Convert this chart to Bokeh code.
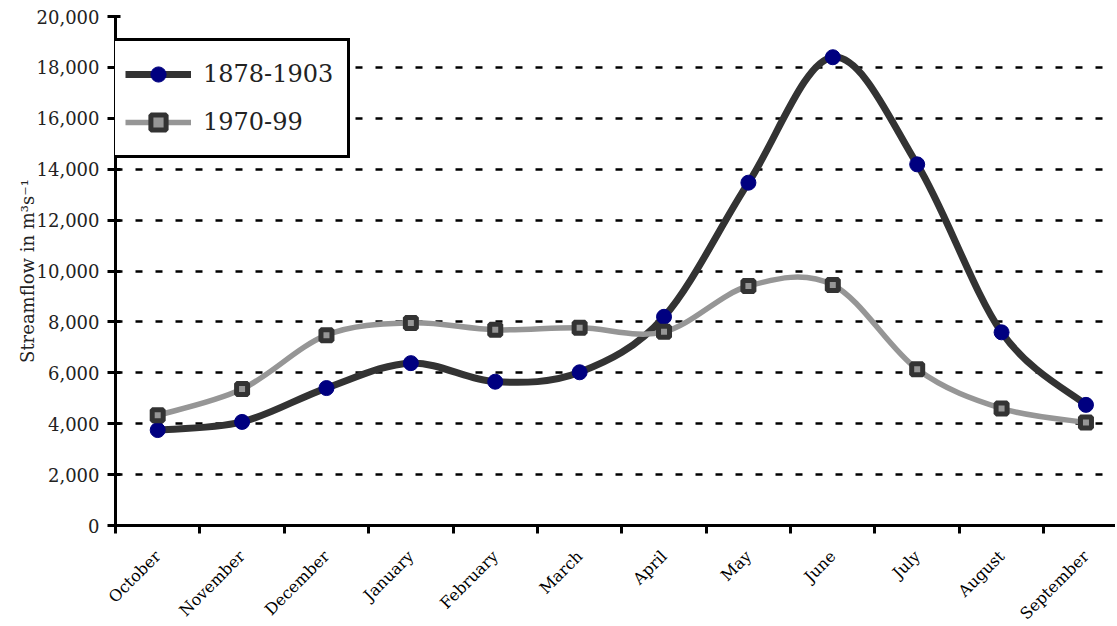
import math
from bokeh.plotting import figure
from bokeh.models import (Range1d, FixedTicker, Legend, LegendItem, ColumnDataSource,
                          NumeralTickFormatter)
from bokeh.embed import file_html
from bokeh.resources import INLINE

# ---- data ----
months = ["October", "November", "December", "January", "February", "March",
          "April", "May", "June", "July", "August", "September"]
flow_1878_1903 = [3750, 4070, 5400, 6380, 5650, 6020, 8200, 13470, 18400, 14190, 7590, 4740]
flow_1970_99 = [4330, 5360, 7480, 7960, 7690, 7770, 7610, 9410, 9450, 6140, 4600, 4050]
y_ticks = list(range(0, 20001, 2000))
grid_ticks = list(range(2000, 18001, 2000))

xs = [i + 0.5 for i in range(len(months))]


def smooth_segments(x, y, t=6.0):
    """Bezier segments through the data points (Excel-like smoothing)."""
    n = len(x)
    d = dict(x0=[], y0=[], x1=[], y1=[], cx0=[], cy0=[], cx1=[], cy1=[])
    for i in range(n - 1):
        ip = max(i - 1, 0)
        inn = min(i + 2, n - 1)
        d["x0"].append(x[i]); d["y0"].append(y[i])
        d["x1"].append(x[i + 1]); d["y1"].append(y[i + 1])
        d["cx0"].append(x[i] + (x[i + 1] - x[ip]) / t)
        d["cy0"].append(y[i] + (y[i + 1] - y[ip]) / t)
        d["cx1"].append(x[i + 1] - (x[inn] - x[i]) / t)
        d["cy1"].append(y[i + 1] - (y[inn] - y[i]) / t)
    return ColumnDataSource(d)


p = figure(frame_width=1000, frame_height=509,
           x_range=Range1d(0, 11.85), y_range=Range1d(0, 20000),
           output_backend="svg", toolbar_location=None,
           min_border_left=115, min_border_top=16, min_border_right=0,
           min_border_bottom=60)
p.outline_line_color = None
p.background_fill_color = "white"
p.border_fill_color = "white"

# grid
p.xgrid.visible = False
p.ygrid.ticker = FixedTicker(ticks=grid_ticks)
p.ygrid.grid_line_color = "black"
p.ygrid.grid_line_dash = "7 13"
p.ygrid.grid_line_width = 2.5

# x axis
xa = p.xaxis[0]
xa.ticker = FixedTicker(ticks=xs, minor_ticks=list(range(13)))
xa.major_label_overrides = {x: m for x, m in zip(xs, months)}
xa.major_tick_out = 0
xa.major_tick_in = 0
xa.minor_tick_out = 8
xa.minor_tick_in = 0
xa.minor_tick_line_width = 3
xa.minor_tick_line_color = "black"
xa.axis_line_width = 3
xa.axis_line_color = "black"
xa.major_label_orientation = math.pi / 4
xa.major_label_standoff = 20
xa.major_label_text_font = "DejaVu Serif"
xa.major_label_text_font_size = "16px"
xa.major_label_text_color = "black"

# y axis
ya = p.yaxis[0]
ya.ticker = FixedTicker(ticks=y_ticks)
ya.formatter = NumeralTickFormatter(format="0,0")
ya.major_tick_in = 5
ya.major_tick_out = 8
ya.minor_tick_out = 0
ya.minor_tick_in = 0
ya.major_tick_line_width = 3
ya.major_tick_line_color = "black"
ya.axis_line_width = 3
ya.axis_line_color = "black"
ya.major_label_standoff = 8
ya.major_label_text_font = "DejaVu Serif"
ya.major_label_text_font_size = "18px"
ya.major_label_text_color = "#222222"
ya.axis_label = "Streamflow in m³s⁻¹"
ya.axis_label_text_font = "DejaVu Serif"
ya.axis_label_text_font_size = "18px"
ya.axis_label_text_font_style = "normal"
ya.axis_label_text_color = "#222222"
ya.axis_label_standoff = -4

# series 1
src1 = ColumnDataSource(dict(x=xs, y=flow_1878_1903))
seg1 = smooth_segments(xs, flow_1878_1903)
l1 = p.bezier(x0="x0", y0="y0", x1="x1", y1="y1", cx0="cx0", cy0="cy0", cx1="cx1", cy1="cy1",
              source=seg1, line_color="#333333", line_width=7)
m1 = p.scatter(x="x", y="y", source=src1, marker="circle", size=15,
               fill_color="#000080", line_color="#000080")

# series 2
src2 = ColumnDataSource(dict(x=xs, y=flow_1970_99))
seg2 = smooth_segments(xs, flow_1970_99)
l2 = p.bezier(x0="x0", y0="y0", x1="x1", y1="y1", cx0="cx0", cy0="cy0", cx1="cx1", cy1="cy1",
              source=seg2, line_color="#969696", line_width=5.5)
m2 = p.scatter(x="x", y="y", source=src2, marker="square", size=11,
               fill_color="#969696", line_color="#333333", line_width=5)

legend = Legend(items=[LegendItem(label="1878-1903", renderers=[l1, m1]),
                       LegendItem(label="1970-99", renderers=[l2, m2])],
                location=(-7, 367))
legend.border_line_color = "black"
legend.border_line_alpha = 1
legend.border_line_width = 3
legend.background_fill_color = "white"
legend.background_fill_alpha = 1
legend.padding = 14
legend.margin = 0
legend.spacing = 10
legend.glyph_width = 66
legend.glyph_height = 38
legend.label_height = 38
legend.label_standoff = 12
legend.label_text_font = "DejaVu Serif"
legend.label_text_font_size = "24px"
legend.label_text_color = "#222222"
p.add_layout(legend, "center")

open("out.html", "w").write(file_html(p, INLINE))
